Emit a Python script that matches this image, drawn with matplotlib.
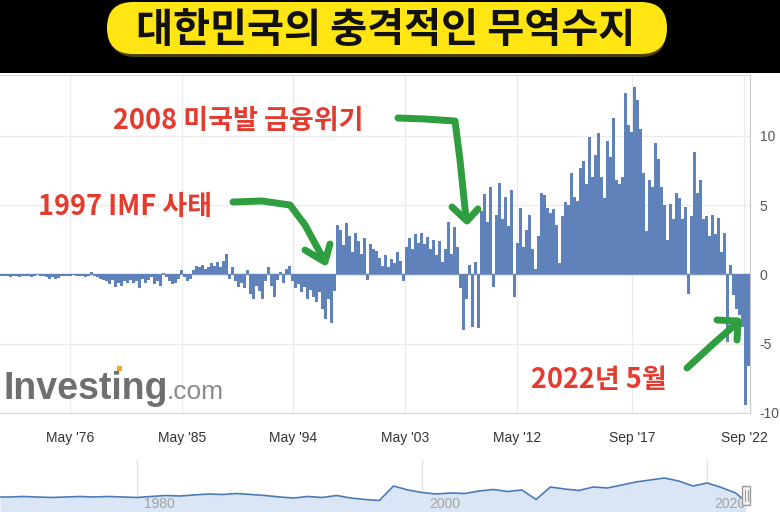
import numpy as np
import matplotlib
matplotlib.use('Agg')
import matplotlib.pyplot as plt
from matplotlib.patches import FancyBboxPatch, Rectangle

# ---------------- data (monthly trade balance, bn USD, ordinal axis) ----------------
seg_a = [-0.1, -0.15, -0.1, -0.2, -0.1, -0.15, -0.2, -0.1, -0.1, -0.15, -0.2, -0.1, 0.05,
         -0.1, -0.15, -0.2, -0.3, -0.2, -0.35, -0.25, -0.15, -0.1, -0.1]
seg_b = [-0.1, -0.05, -0.1, -0.15, -0.1, -0.2, -0.15, 0.15, -0.1, -0.2, -0.3, -0.4, -0.5,
         -0.7, -0.4, -0.9, -0.6, -0.8]
seg_c = [-0.5, -0.6, -0.4, -0.6, -0.5, -1.0, -0.3, -0.6, -0.4, -0.2, -0.7, -0.5, -0.8, 0.1,
         -0.2, -0.5, -0.7, -0.6, -0.3, 0.3, -0.2, -0.5, -0.3]
seg_d = [0.3, 0.6, 0.5, 0.7, 0.4, 0.5, 0.8, 0.6, 0.9, 0.5, 1.0, 1.45]
seg_e = [-0.3, 0.5, -0.5, -0.9, -0.6, -1.0, 0.3, -1.4, -1.8, -0.8]
seg_f = [-1.2, -1.8, -0.5, 0.5, -0.8, -1.6, -0.4, 0.2, -0.6, 0.4, 0.6]
seg_g = [-0.5, -1.0, -0.7, -1.3, -0.9, -1.8, -1.1, -1.6, -2.0, -1.3, -2.5, -3.2, -1.8, -3.5, -1.2]
seg_h = [3.6, 3.2, 2.1, 3.7, 2.8, 1.6, 3.0, 2.4, 1.5, 2.6, -0.4, 2.2, 1.8]
seg_i = [1.7, 1.2, 0.6, 1.4, 0.5, 1.1, 0.8, 1.6, 1.0, -0.5]
seg_j = [2.0, 2.6, 1.8, 2.9, 2.3, 3.0, 2.2, 2.7, 1.8, 2.5, 1.4, 2.4, 0.9]
seg_k = [1.8, 3.8, 1.5, 3.4, 2.0]
seg_l = [-1.0, -4.0, -1.8, 0.7, -3.8, 0.9, -3.9]
seg_m = [4.6, 5.8, 3.8, 6.3, -0.9, 4.3, 6.6, 4.0, 5.6, 3.5, 6.1, -1.6]
seg_n = [2.3, 4.8, 2.0, 3.2, 4.3, 1.8, 0.4, 2.8, 5.9, 5.7, 4.8, 4.4, 4.7, 3.6, 0.8, 4.2, 5.2,
         5.0, 7.3, 5.6, 5.3, 7.7, 8.2, 6.5, 9.9, 7.0, 8.6, 10.2, 7.0, 5.5, 9.6, 8.5, 11.3, 6.8,
         6.5, 7.0, 13.1, 10.8, 10.3, 13.5]
seg_o = [12.6, 10.5, 7.3, 3.1, 6.8, 6.3, 9.5, 8.3, 6.3, 5.0, 2.5, 5.1, 4.0, 5.9, 5.5, 4.0,
         4.9, -1.4, 4.2, 8.8, 5.9, 6.8, 4.0, 4.2, 2.8, 4.3, 2.9, 4.1, 1.6, 3.0, -4.9, 0.7,
         -1.5, -2.5, -2.9, -3.8, -9.4, -6.6]

tick_labels = ["May '76", "May '85", "May '94", "May '03", "May '12", "Sep '17", "Sep '22"]
tick_frac = [0.0933, 0.2427, 0.3907, 0.54, 0.6893, 0.8427, 0.992]
y_ticks = [-10, -5, 0, 5, 10]

nav_years = [1970.4, 1971, 1972, 1973, 1974, 1975, 1976, 1977, 1978, 1979, 1980, 1981, 1982,
             1983, 1984, 1985, 1986, 1987, 1988, 1989, 1990, 1991, 1992, 1993, 1994, 1995,
             1996, 1997, 1998, 1999, 2000, 2001, 2002, 2003, 2004, 2005, 2006, 2007, 2008,
             2009, 2010, 2011, 2012, 2013, 2014, 2015, 2016, 2017, 2018, 2019, 2020, 2021,
             2022, 2022.7]
nav_values = [0.0, 0.0, 0.1, 0.0, -0.1, 0.0, 0.1, 0.0, 0.1, 0.0, -0.1, 0.1, 0.3, 0.2, 0.4,
              0.6, 0.5, 0.7, 0.5, 0.3, 0.0, -0.2, 0.1, -0.1, 0.3, -0.2, -0.5, -0.7, 2.2, 1.4,
              0.9, 0.6, 0.8, 0.7, 1.2, 1.5, 1.1, 1.4, -0.5, 2.0, 1.6, 1.3, 2.0, 1.8, 2.4, 3.0,
              3.4, 3.8, 3.2, 2.2, 2.8, 1.9, 0.8, -0.9]
nav_labels = ["1980", "2000", "2020"]

title = "대한민국의 충격적인 무역수지"
ann_2008 = "2008 미국발 금융위기"
ann_1997 = "1997 IMF 사태"
ann_2022 = "2022년 5월"

balance = np.array(seg_a + seg_b + seg_c + seg_d + seg_e + seg_f + seg_g + seg_h + seg_i +
                   seg_j + seg_k + seg_l + seg_m + seg_n + seg_o)
N = len(balance)
x = np.arange(N)

# ---------------- figure ----------------
W, H = 780, 512
fig = plt.figure(figsize=(W / 100, H / 100), dpi=100)
fig.patch.set_facecolor('white')
CJK = ['Noto Sans CJK KR', 'DejaVu Sans']

ax = fig.add_axes([0, 1 - 413 / H, 750 / W, (413 - 75) / H])
ax.set_facecolor('white')
ax.bar(x, balance, width=0.86, color='#5f82ba', linewidth=0, zorder=3)
ax.axhline(0, color='#7d98c6', lw=1.0, zorder=2)
ax.set_xlim(-0.5, N - 0.5)
ax.set_ylim(-10, 14.39)
ax.yaxis.tick_right()
ax.set_yticks(y_ticks)
ax.set_yticklabels([str(v) for v in y_ticks])
ax.set_xticks([f * N - 0.5 for f in tick_frac])
ax.set_xticklabels(tick_labels)
ax.tick_params(axis='y', length=0, pad=7, labelsize=10, labelcolor='#555555')
ax.tick_params(axis='x', length=0, pad=13, labelsize=10, labelcolor='#333333')
for lab in ax.get_xticklabels() + ax.get_yticklabels():
    lab.set_family('Liberation Sans')
ax.grid(True, color='#ebebeb', lw=1.0)
ax.set_axisbelow(True)
ax.spines['left'].set_visible(False)
ax.spines['top'].set_color('#d5d5d5')
ax.spines['right'].set_color('#c8c8c8')
ax.spines['bottom'].set_color('#d8d8d8')

# navigator
nav = fig.add_axes([0, 0, 750 / W, 52 / H])
nav.fill_between(nav_years, nav_values, -3, color='#dae6f5', lw=0)
nav.plot(nav_years, nav_values, color='#4a7bb7', lw=1.2)
nav.set_xlim(1970.4, 2023.0)
nav.set_ylim(-3, 7.4)
for yr, lab in zip([1980, 2000, 2020], nav_labels):
    nav.axvline(yr, color='#e3e3e3', lw=1, zorder=0)
    nav.text(yr + 0.5, -1.3, lab, ha='left', va='center', fontsize=10,
             color='#a3a3a3', family='Liberation Sans')
nav.axis('off')

# ---------------- overlay (pixel coordinates) ----------------
ov = fig.add_axes([0, 0, 1, 1], zorder=10)
ov.set_xlim(0, W)
ov.set_ylim(H, 0)
ov.axis('off')
ov.patch.set_alpha(0)

ov.add_patch(Rectangle((0, 0), W, 73, color='black', lw=0))
ov.add_patch(FancyBboxPatch((110, 6), 556, 51, boxstyle='round,pad=0,rounding_size=25',
                            facecolor='#4a4200', edgecolor='none'))
ov.add_patch(FancyBboxPatch((107, 2), 560, 52, boxstyle='round,pad=0,rounding_size=26',
                            facecolor='#ffe512', edgecolor='none'))
ov.text(386, 30, title, ha='center', va='center', fontsize=29, fontweight='heavy',
        color='#111111', family=CJK)

# navigator handle
ov.add_patch(Rectangle((742, 486), 8, 19, facecolor='#f4f4f4', edgecolor='#9a9a9a', lw=1))
ov.plot([745, 745], [490, 501], color='#9a9a9a', lw=0.8)
ov.plot([747.5, 747.5], [490, 501], color='#9a9a9a', lw=0.8)

# Investing.com logo
ov.text(4, 399, 'Investing', fontsize=27, fontweight='bold', color='#6f6f6f',
        family='Liberation Sans', va='baseline', ha='left')
ov.text(167, 399, '.com', fontsize=19, color='#8a8a8a', family='Liberation Sans',
        va='baseline', ha='left')
ov.add_patch(Rectangle((117, 366), 5, 5, color='#f2a72e', lw=0))

# annotations
red = '#e53b2f'
ov.text(113, 121, ann_2008, ha='left', va='center', fontsize=19.5, fontweight='heavy',
        color=red, family=CJK)
ov.text(38, 207, ann_1997, ha='left', va='center', fontsize=19.5, fontweight='heavy',
        color=red, family=CJK)
ov.text(531, 380, ann_2022, ha='left', va='center', fontsize=19.5, fontweight='heavy',
        color=red, family=CJK)

green = '#2f9e3f'
arrow_kw = dict(color=green, lw=5, solid_capstyle='round', solid_joinstyle='round')
ov.plot([233, 262, 290, 305, 323], [202, 201, 205, 225, 258], **arrow_kw)
ov.plot([305, 325, 330], [250, 262, 244], **arrow_kw)
ov.plot([398, 425, 455, 460, 466], [118, 119, 121, 160, 218], **arrow_kw)
ov.plot([452, 467, 478], [207, 221, 209], **arrow_kw)
ov.plot([687, 712, 737], [368, 345, 323], **arrow_kw)
ov.plot([717, 738, 737], [320, 321, 340], **arrow_kw)

fig.savefig('out.png', dpi=100)
